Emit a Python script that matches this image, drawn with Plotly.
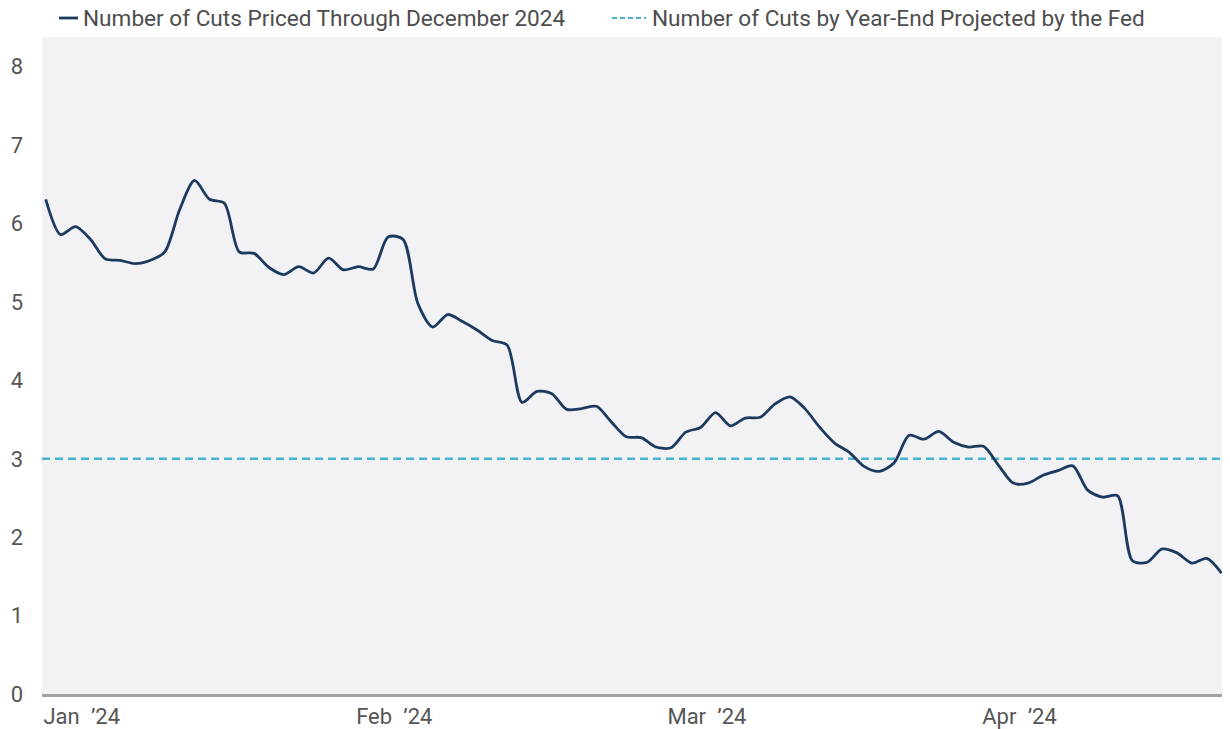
import plotly.graph_objects as go

# ---------------- data ----------------
series_names = [
    "Number of Cuts Priced Through December 2024",
    "Number of Cuts by Year-End Projected by the Fed",
]
cuts_priced = [
    6.31, 5.86, 5.96, 5.80, 5.55, 5.53, 5.49, 5.53, 5.64, 6.18,
    6.55, 6.31, 6.26, 5.64, 5.62, 5.44, 5.35, 5.45, 5.37, 5.56,
    5.41, 5.45, 5.42, 5.83, 5.80, 4.98, 4.68, 4.84, 4.75, 4.64,
    4.51, 4.45, 3.72, 3.86, 3.83, 3.63, 3.64, 3.67, 3.47, 3.28,
    3.27, 3.15, 3.14, 3.34, 3.40, 3.59, 3.42, 3.52, 3.53, 3.70,
    3.79, 3.64, 3.40, 3.20, 3.08, 2.90, 2.84, 2.95, 3.30, 3.25,
    3.35, 3.21, 3.15, 3.16, 2.92, 2.69, 2.69, 2.79, 2.85, 2.91,
    2.60, 2.51, 2.53, 1.70, 1.68, 1.85, 1.80, 1.67, 1.73, 1.54,
]
trading_day = list(range(len(cuts_priced)))
fed_projection = 3
month_tick_days = [0, 21, 42, 63]
month_tick_labels = ["Jan\u2002\u201924", "Feb\u2002\u201924", "Mar\u2002\u201924", "Apr\u2002\u201924"]
y_ticks = [0, 1, 2, 3, 4, 5, 6, 7, 8]

# ---------------- style ----------------
# the page body has an 8px default margin, so the figure is sized to fill
# the remaining visible window area
OFF = 8
W, H = 1230 - OFF, 729 - OFF
ML, MR, MT, MB = 34, 0, 29, 35
PW, PH = W - ML - MR, H - MT - MB
NAVY = "#1c3a5e"
TEAL = "#4ab3cf"
TXT = "#555555"
FONT = "Roboto, Liberation Sans, sans-serif"


def px_x(sx):
    return (sx - OFF - ML) / PW


def px_y(sy):
    return (H - MB - (sy - OFF)) / PH


fig = go.Figure()
fig.add_trace(go.Scatter(
    x=trading_day, y=cuts_priced, mode="lines", name=series_names[0],
    line=dict(color=NAVY, width=2.8, shape="spline", smoothing=0.8),
    showlegend=False, hoverinfo="x+y",
))
fig.add_hline(y=fed_projection, layer="below",
              line=dict(color=TEAL, width=2.4, dash="8px,5px"))

# legend (drawn manually to match compact symbol sizes)
leg_y = px_y(18)
fig.add_shape(type="line", xref="paper", yref="paper",
              x0=px_x(59), x1=px_x(78), y0=leg_y, y1=leg_y,
              line=dict(color=NAVY, width=2.8))
fig.add_annotation(xref="paper", yref="paper", x=px_x(81), y=leg_y,
                   xanchor="left", yanchor="middle", showarrow=False,
                   text=series_names[0], font=dict(size=22.6, color="#4d4d4d", family=FONT))
fig.add_shape(type="line", xref="paper", yref="paper",
              x0=px_x(612), x1=px_x(646), y0=leg_y, y1=leg_y,
              line=dict(color=TEAL, width=2.2, dash="5px,3px"))
fig.add_annotation(xref="paper", yref="paper", x=px_x(650), y=leg_y,
                   xanchor="left", yanchor="middle", showarrow=False,
                   text=series_names[1], font=dict(size=22.6, color="#4d4d4d", family=FONT))

fig.update_layout(
    width=W, height=H,
    margin=dict(l=ML, r=MR, t=MT, b=MB, autoexpand=False),
    paper_bgcolor="white",
    plot_bgcolor="#f2f2f5",
    font=dict(family=FONT, color=TXT, size=22),
    showlegend=False,
)
fig.update_xaxes(
    range=[-0.25, 79.56], automargin=False,
    tickmode="array", tickvals=month_tick_days, ticktext=month_tick_labels,
    ticks="", showgrid=False, zeroline=False,
    showline=True, linecolor="#a3a3a3", linewidth=2.5,
    tickfont=dict(size=22, color=TXT, family=FONT),
    ticklabelshift=36, ticklabelstandoff=1,
)
fig.update_yaxes(
    range=[0, 8.38], automargin=False,
    tickmode="array", tickvals=y_ticks,
    ticks="", showgrid=False, zeroline=False, showline=False,
    tickfont=dict(size=22, color=TXT, family=FONT),
    ticklabelstandoff=18,
)

fig.write_html("out.html")
